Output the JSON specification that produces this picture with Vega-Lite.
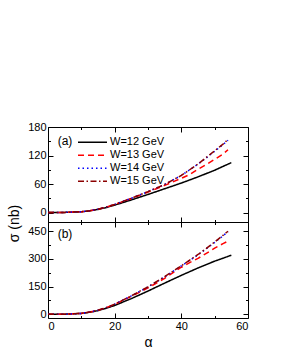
{
  "$schema": "https://vega.github.io/schema/vega-lite/v6.json",
  "padding": {"left": 7, "top": 121, "right": 5, "bottom": 5},
  "bounds": "flush",
  "spacing": 0,
  "config": {
    "view": {"stroke": null},
    "font": "Liberation Sans",
    "axis": {"grid": false, "domainColor": "black", "domainWidth": 1, "tickColor": "black", "tickWidth": 1, "labelColor": "black", "labelFontSize": 11, "labelFont": "Liberation Sans", "titleFont": "Liberation Sans", "titleFontWeight": "normal", "titleColor": "black", "labelPadding": 7}
  },
  "datasets": {
    "a": [
      {"W": "W=12 GeV", "alpha": 0, "sigma": 0}, {"W": "W=12 GeV", "alpha": 5, "sigma": 0.2}, {"W": "W=12 GeV", "alpha": 10, "sigma": 1.5}, {"W": "W=12 GeV", "alpha": 12.5, "sigma": 3.5}, {"W": "W=12 GeV", "alpha": 15, "sigma": 6.5}, {"W": "W=12 GeV", "alpha": 17.5, "sigma": 10.5}, {"W": "W=12 GeV", "alpha": 20, "sigma": 15.5}, {"W": "W=12 GeV", "alpha": 25, "sigma": 26.5}, {"W": "W=12 GeV", "alpha": 30, "sigma": 38}, {"W": "W=12 GeV", "alpha": 35, "sigma": 50}, {"W": "W=12 GeV", "alpha": 40, "sigma": 62}, {"W": "W=12 GeV", "alpha": 45, "sigma": 75}, {"W": "W=12 GeV", "alpha": 50, "sigma": 89}, {"W": "W=12 GeV", "alpha": 55, "sigma": 105},
      {"W": "W=13 GeV", "alpha": 0, "sigma": 0}, {"W": "W=13 GeV", "alpha": 5, "sigma": 0.2}, {"W": "W=13 GeV", "alpha": 10, "sigma": 1.6}, {"W": "W=13 GeV", "alpha": 12.5, "sigma": 3.8}, {"W": "W=13 GeV", "alpha": 15, "sigma": 7}, {"W": "W=13 GeV", "alpha": 17.5, "sigma": 11.5}, {"W": "W=13 GeV", "alpha": 20, "sigma": 17}, {"W": "W=13 GeV", "alpha": 25, "sigma": 29.5}, {"W": "W=13 GeV", "alpha": 30, "sigma": 43}, {"W": "W=13 GeV", "alpha": 35, "sigma": 57}, {"W": "W=13 GeV", "alpha": 40, "sigma": 72}, {"W": "W=13 GeV", "alpha": 42.5, "sigma": 80}, {"W": "W=13 GeV", "alpha": 45, "sigma": 91}, {"W": "W=13 GeV", "alpha": 47.5, "sigma": 101}, {"W": "W=13 GeV", "alpha": 50, "sigma": 112}, {"W": "W=13 GeV", "alpha": 52.5, "sigma": 123}, {"W": "W=13 GeV", "alpha": 54, "sigma": 132},
      {"W": "W=14 GeV", "alpha": 0, "sigma": 0}, {"W": "W=14 GeV", "alpha": 5, "sigma": 0.2}, {"W": "W=14 GeV", "alpha": 10, "sigma": 1.6}, {"W": "W=14 GeV", "alpha": 12.5, "sigma": 3.8}, {"W": "W=14 GeV", "alpha": 15, "sigma": 7}, {"W": "W=14 GeV", "alpha": 17.5, "sigma": 11.5}, {"W": "W=14 GeV", "alpha": 20, "sigma": 17}, {"W": "W=14 GeV", "alpha": 25, "sigma": 30}, {"W": "W=14 GeV", "alpha": 30, "sigma": 44}, {"W": "W=14 GeV", "alpha": 35, "sigma": 59}, {"W": "W=14 GeV", "alpha": 40, "sigma": 78}, {"W": "W=14 GeV", "alpha": 42.5, "sigma": 90}, {"W": "W=14 GeV", "alpha": 45, "sigma": 102}, {"W": "W=14 GeV", "alpha": 47.5, "sigma": 115}, {"W": "W=14 GeV", "alpha": 50, "sigma": 129}, {"W": "W=14 GeV", "alpha": 52.5, "sigma": 143}, {"W": "W=14 GeV", "alpha": 54, "sigma": 152},
      {"W": "W=15 GeV", "alpha": 0, "sigma": 0}, {"W": "W=15 GeV", "alpha": 5, "sigma": 0.2}, {"W": "W=15 GeV", "alpha": 10, "sigma": 1.6}, {"W": "W=15 GeV", "alpha": 12.5, "sigma": 3.8}, {"W": "W=15 GeV", "alpha": 15, "sigma": 7}, {"W": "W=15 GeV", "alpha": 17.5, "sigma": 11.5}, {"W": "W=15 GeV", "alpha": 20, "sigma": 17}, {"W": "W=15 GeV", "alpha": 25, "sigma": 30}, {"W": "W=15 GeV", "alpha": 30, "sigma": 44}, {"W": "W=15 GeV", "alpha": 35, "sigma": 59}, {"W": "W=15 GeV", "alpha": 40, "sigma": 78}, {"W": "W=15 GeV", "alpha": 42.5, "sigma": 90}, {"W": "W=15 GeV", "alpha": 45, "sigma": 102}, {"W": "W=15 GeV", "alpha": 47.5, "sigma": 116}, {"W": "W=15 GeV", "alpha": 50, "sigma": 130}, {"W": "W=15 GeV", "alpha": 52.5, "sigma": 144}, {"W": "W=15 GeV", "alpha": 54, "sigma": 154}
    ],
    "b": [
      {"W": "W=12 GeV", "alpha": 0, "sigma": 0}, {"W": "W=12 GeV", "alpha": 5, "sigma": 0.5}, {"W": "W=12 GeV", "alpha": 10, "sigma": 5}, {"W": "W=12 GeV", "alpha": 12.5, "sigma": 11}, {"W": "W=12 GeV", "alpha": 15, "sigma": 20}, {"W": "W=12 GeV", "alpha": 17.5, "sigma": 33}, {"W": "W=12 GeV", "alpha": 20, "sigma": 48}, {"W": "W=12 GeV", "alpha": 25, "sigma": 85}, {"W": "W=12 GeV", "alpha": 30, "sigma": 126}, {"W": "W=12 GeV", "alpha": 35, "sigma": 169}, {"W": "W=12 GeV", "alpha": 40, "sigma": 211}, {"W": "W=12 GeV", "alpha": 45, "sigma": 251}, {"W": "W=12 GeV", "alpha": 50, "sigma": 288}, {"W": "W=12 GeV", "alpha": 55, "sigma": 320},
      {"W": "W=13 GeV", "alpha": 0, "sigma": 0}, {"W": "W=13 GeV", "alpha": 5, "sigma": 0.5}, {"W": "W=13 GeV", "alpha": 10, "sigma": 5}, {"W": "W=13 GeV", "alpha": 12.5, "sigma": 12}, {"W": "W=13 GeV", "alpha": 15, "sigma": 22}, {"W": "W=13 GeV", "alpha": 17.5, "sigma": 36}, {"W": "W=13 GeV", "alpha": 20, "sigma": 54}, {"W": "W=13 GeV", "alpha": 25, "sigma": 97}, {"W": "W=13 GeV", "alpha": 30, "sigma": 143}, {"W": "W=13 GeV", "alpha": 35, "sigma": 195}, {"W": "W=13 GeV", "alpha": 40, "sigma": 255}, {"W": "W=13 GeV", "alpha": 42.5, "sigma": 280}, {"W": "W=13 GeV", "alpha": 45, "sigma": 303}, {"W": "W=13 GeV", "alpha": 47.5, "sigma": 330}, {"W": "W=13 GeV", "alpha": 50, "sigma": 358}, {"W": "W=13 GeV", "alpha": 52.5, "sigma": 383}, {"W": "W=13 GeV", "alpha": 54, "sigma": 396},
      {"W": "W=14 GeV", "alpha": 0, "sigma": 0}, {"W": "W=14 GeV", "alpha": 5, "sigma": 0.5}, {"W": "W=14 GeV", "alpha": 10, "sigma": 5}, {"W": "W=14 GeV", "alpha": 12.5, "sigma": 12}, {"W": "W=14 GeV", "alpha": 15, "sigma": 22}, {"W": "W=14 GeV", "alpha": 17.5, "sigma": 36}, {"W": "W=14 GeV", "alpha": 20, "sigma": 55}, {"W": "W=14 GeV", "alpha": 25, "sigma": 100}, {"W": "W=14 GeV", "alpha": 30, "sigma": 148}, {"W": "W=14 GeV", "alpha": 35, "sigma": 203}, {"W": "W=14 GeV", "alpha": 40, "sigma": 262}, {"W": "W=14 GeV", "alpha": 42.5, "sigma": 292}, {"W": "W=14 GeV", "alpha": 45, "sigma": 322}, {"W": "W=14 GeV", "alpha": 47.5, "sigma": 355}, {"W": "W=14 GeV", "alpha": 50, "sigma": 390}, {"W": "W=14 GeV", "alpha": 52.5, "sigma": 425}, {"W": "W=14 GeV", "alpha": 54, "sigma": 448},
      {"W": "W=15 GeV", "alpha": 0, "sigma": 0}, {"W": "W=15 GeV", "alpha": 5, "sigma": 0.5}, {"W": "W=15 GeV", "alpha": 10, "sigma": 5}, {"W": "W=15 GeV", "alpha": 12.5, "sigma": 12}, {"W": "W=15 GeV", "alpha": 15, "sigma": 22}, {"W": "W=15 GeV", "alpha": 17.5, "sigma": 36}, {"W": "W=15 GeV", "alpha": 20, "sigma": 55}, {"W": "W=15 GeV", "alpha": 25, "sigma": 100}, {"W": "W=15 GeV", "alpha": 30, "sigma": 149}, {"W": "W=15 GeV", "alpha": 35, "sigma": 204}, {"W": "W=15 GeV", "alpha": 40, "sigma": 263}, {"W": "W=15 GeV", "alpha": 42.5, "sigma": 293}, {"W": "W=15 GeV", "alpha": 45, "sigma": 324}, {"W": "W=15 GeV", "alpha": 47.5, "sigma": 357}, {"W": "W=15 GeV", "alpha": 50, "sigma": 392}, {"W": "W=15 GeV", "alpha": 52.5, "sigma": 428}, {"W": "W=15 GeV", "alpha": 54, "sigma": 450}
    ]
  },
  "vconcat": [
    {
      "width": 200, "height": 95,
      "data": {"name": "a"},
      "layer": [
        {
          "mark": {"type": "line", "strokeWidth": 1.5},
          "encoding": {
            "x": {"field": "alpha", "type": "quantitative", "scale": {"domain": [0, 60], "nice": false},
                  "axis": {"orient": "bottom", "values": [0, 10, 20, 30, 40, 50, 60], "labels": false, "title": null,
                           "tickSize": {"condition": {"test": "datum.value % 20 === 0", "value": -5}, "value": -2.5}}},
            "y": {"field": "sigma", "type": "quantitative", "scale": {"domain": [-20, 180], "nice": false, "zero": false},
                  "axis": {"orient": "left", "values": [0, 30, 60, 90, 120, 150, 180], "labelExpr": "datum.value % 60 === 0 ? datum.label : ''",
                           "tickSize": {"condition": {"test": "datum.value % 60 === 0", "value": -5}, "value": -2.5},
                           "title": "σ (nb)", "titleFontSize": 14, "titleAngle": -90, "titleX": -34, "titleY": 96, "titleAlign": "center", "titleBaseline": "middle"}},
            "color": {"field": "W", "type": "nominal",
                      "scale": {"domain": ["W=12 GeV", "W=13 GeV", "W=14 GeV", "W=15 GeV"], "range": ["#000000", "#ff0000", "#0000ff", "#8b0000"]},
                      "legend": {"orient": "none", "legendX": 29, "legendY": 9, "title": null, "symbolType": "stroke", "symbolSize": 841, "symbolStrokeWidth": 1.5, "labelFontSize": 11, "labelFont": "Liberation Sans", "labelColor": "black", "labelOffset": 2, "padding": 0, "rowPadding": 0, "clipHeight": 12.3}},
            "strokeDash": {"field": "W", "type": "nominal",
                      "scale": {"domain": ["W=12 GeV", "W=13 GeV", "W=14 GeV", "W=15 GeV"], "range": [[1, 0], [6, 4], [1.5, 3], [6, 2.5, 1.5, 2.5]]},
                      "legend": {"orient": "none", "legendX": 29, "legendY": 9, "title": null, "symbolType": "stroke", "symbolSize": 841, "symbolStrokeWidth": 1.5, "labelFontSize": 11, "labelFont": "Liberation Sans", "labelColor": "black", "labelOffset": 2, "padding": 0, "rowPadding": 0, "clipHeight": 12.3}}
          }
        },
        {
          "mark": {"type": "line", "opacity": 0},
          "encoding": {
            "x": {"field": "alpha", "type": "quantitative", "scale": {"domain": [0, 60], "nice": false},
                  "axis": {"orient": "top", "values": [0, 10, 20, 30, 40, 50, 60], "labels": false, "title": null,
                           "tickSize": {"condition": {"test": "datum.value % 20 === 0", "value": -5}, "value": -2.5}}},
            "y": {"field": "sigma", "type": "quantitative", "scale": {"domain": [-20, 180], "nice": false, "zero": false},
                  "axis": {"orient": "right", "values": [0, 30, 60, 90, 120, 150, 180], "labels": false, "title": null,
                           "tickSize": {"condition": {"test": "datum.value % 60 === 0", "value": -5}, "value": -2.5}}},
            "detail": {"field": "W"}
          }
        },
        {
          "data": {"values": [{"panel": "(a)", "alpha": 2.9, "sigma": 150.6}]},
          "mark": {"type": "text", "align": "left", "baseline": "middle", "fontSize": 12, "font": "Liberation Sans", "fontWeight": "normal", "color": "black"},
          "encoding": {
            "text": {"field": "panel"},
            "x": {"field": "alpha", "type": "quantitative", "axis": null},
            "y": {"field": "sigma", "type": "quantitative", "axis": null}
          }
        }
      ],
      "resolve": {"axis": {"x": "independent", "y": "independent"}}
    },
    {
      "width": 200, "height": 96,
      "data": {"name": "b"},
      "layer": [
        {
          "mark": {"type": "line", "strokeWidth": 1.5},
          "encoding": {
            "x": {"field": "alpha", "type": "quantitative", "scale": {"domain": [0, 60], "nice": false},
                  "axis": {"orient": "bottom", "values": [0, 10, 20, 30, 40, 50, 60], "labelExpr": "datum.value % 20 === 0 ? datum.label : ''", "title": "α", "titleFontSize": 14,
                           "tickSize": {"condition": {"test": "datum.value % 20 === 0", "value": -5}, "value": -2.5}}},
            "y": {"field": "sigma", "type": "quantitative", "scale": {"domain": [-20, 500], "nice": false, "zero": false},
                  "axis": {"orient": "left", "values": [0, 75, 150, 225, 300, 375, 450], "labelExpr": "datum.value % 150 === 0 ? datum.label : ''", "title": null,
                           "tickSize": {"condition": {"test": "datum.value % 150 === 0", "value": -5}, "value": -2.5}}},
            "color": {"field": "W", "type": "nominal",
                      "scale": {"domain": ["W=12 GeV", "W=13 GeV", "W=14 GeV", "W=15 GeV"], "range": ["#000000", "#ff0000", "#0000ff", "#8b0000"]},
                      "legend": null},
            "strokeDash": {"field": "W", "type": "nominal",
                      "scale": {"domain": ["W=12 GeV", "W=13 GeV", "W=14 GeV", "W=15 GeV"], "range": [[1, 0], [6, 4], [1.5, 3], [6, 2.5, 1.5, 2.5]]},
                      "legend": null}
          }
        },
        {
          "mark": {"type": "line", "opacity": 0},
          "encoding": {
            "x": {"field": "alpha", "type": "quantitative", "scale": {"domain": [0, 60], "nice": false},
                  "axis": {"orient": "top", "values": [0, 10, 20, 30, 40, 50, 60], "labels": false, "title": null,
                           "tickSize": {"condition": {"test": "datum.value % 20 === 0", "value": -5}, "value": -2.5}}},
            "y": {"field": "sigma", "type": "quantitative", "scale": {"domain": [-20, 500], "nice": false, "zero": false},
                  "axis": {"orient": "right", "values": [0, 75, 150, 225, 300, 375, 450], "labels": false, "title": null,
                           "tickSize": {"condition": {"test": "datum.value % 150 === 0", "value": -5}, "value": -2.5}}},
            "detail": {"field": "W"}
          }
        },
        {
          "data": {"values": [{"panel": "(b)", "alpha": 2.9, "sigma": 435}]},
          "mark": {"type": "text", "align": "left", "baseline": "middle", "fontSize": 12, "font": "Liberation Sans", "fontWeight": "normal", "color": "black"},
          "encoding": {
            "text": {"field": "panel"},
            "x": {"field": "alpha", "type": "quantitative", "axis": null},
            "y": {"field": "sigma", "type": "quantitative", "axis": null}
          }
        }
      ],
      "resolve": {"axis": {"x": "independent", "y": "independent"}}
    }
  ],
  "resolve": {"scale": {"color": "independent", "strokeDash": "independent"}, "legend": {"color": "independent", "strokeDash": "independent"}}
}
